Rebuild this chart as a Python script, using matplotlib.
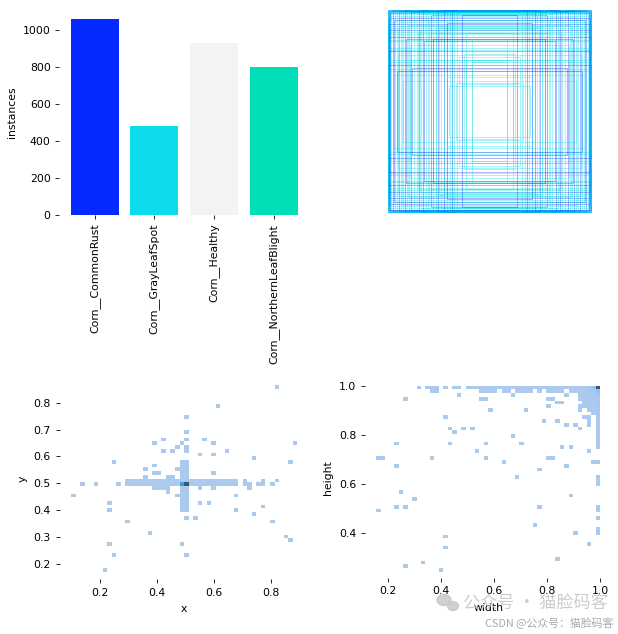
import matplotlib
matplotlib.use("Agg")
import matplotlib.pyplot as plt
from matplotlib.patches import Rectangle, Ellipse
from matplotlib.ticker import MultipleLocator
import pandas as pd
import seaborn as sns

# ---------------- data ----------------
class_names = ["Corn__CommonRust", "Corn__GrayLeafSpot", "Corn__Healthy", "Corn__NorthernLeafBlight"]
instances = [1059, 481, 931, 798]
class_colors = ["#042AFF", "#0BDBEB", "#F3F3F3", "#00DFB7"]

# label boxes drawn centred (width, height as fraction of image, class index)
rect_w = [
    1.00, 1.00, 0.99, 0.98, 1.00, 0.97, 0.99, 0.95, 1.00, 0.93,
    0.99, 0.91, 1.00, 0.89, 0.99, 0.87, 1.00, 0.85, 0.98, 0.83,
    1.00, 0.81, 0.99, 0.79, 1.00, 0.77, 0.99, 0.74, 1.00, 0.71,
    0.99, 0.69, 1.00, 0.67, 0.99, 0.65, 1.00, 0.62, 0.99, 0.60,
    1.00, 0.57, 0.99, 0.55, 1.00, 0.52, 0.99, 0.50, 1.00, 0.47,
    0.45, 0.42, 0.39, 0.37, 0.35, 0.32, 0.94, 0.90, 0.86, 0.82,
    0.80, 0.78, 0.76, 0.70, 0.68, 0.64, 0.59, 0.57, 0.55, 0.52,
    0.49, 0.45, 0.42, 0.42, 0.40, 0.37, 0.33, 0.30, 0.27, 0.25,
    0.23, 0.23, 0.27, 0.17, 0.17, 0.85, 0.95, 0.91, 0.78, 0.90,
    0.995, 1.00, 0.985, 0.99, 0.975, 0.98]
rect_h = [
    1.00, 1.00, 0.99, 1.00, 0.98, 0.99, 0.96, 1.00, 0.94, 0.99,
    0.92, 1.00, 0.90, 0.99, 0.88, 1.00, 0.86, 0.98, 0.84, 1.00,
    0.82, 0.98, 0.80, 1.00, 0.78, 0.98, 0.76, 1.00, 0.73, 0.98,
    0.70, 1.00, 0.69, 0.96, 0.63, 1.00, 0.61, 0.98, 0.60, 1.00,
    0.51, 0.95, 0.49, 1.00, 0.46, 0.98, 0.42, 1.00, 0.40, 0.96,
    1.00, 0.99, 0.98, 1.00, 0.99, 1.00, 0.90, 0.84, 0.93, 0.71,
    0.85, 0.66, 0.43, 0.77, 0.80, 0.69, 0.90, 0.77, 0.71, 0.83,
    0.82, 0.81, 0.87, 0.34, 0.25, 0.71, 0.28, 0.54, 0.95, 0.57,
    0.77, 0.51, 0.27, 0.71, 0.49, 0.30, 0.36, 0.40, 0.51, 0.56,
    1.00, 0.995, 0.99, 0.985, 0.98, 0.975]
rect_cls = [
    1, 0, 1, 1, 0, 1, 1, 0, 1, 1,
    0, 1, 1, 0, 1, 1, 0, 1, 1, 0,
    1, 1, 0, 1, 3, 0, 1, 1, 0, 1,
    1, 0, 3, 1, 1, 0, 1, 1, 0, 1,
    1, 0, 1, 1, 0, 3, 1, 0, 1, 1,
    0, 1, 1, 0, 1, 1, 0, 1, 1, 0,
    1, 1, 0, 1, 1, 0, 1, 1, 0, 1,
    3, 1, 0, 1, 1, 1, 1, 1, 0, 1,
    1, 1, 1, 1, 3, 1, 1, 0, 1, 1,
    1, 1, 0, 1, 1, 0]

# box centres: (x, y, count)
xy_cells = [
    (0.106, 0.455, 1), (0.138, 0.497, 1), (0.186, 0.497, 1), (0.249, 0.580, 1), (0.233, 0.427, 1),
    (0.233, 0.400, 1), (0.265, 0.497, 1), (0.297, 0.358, 1), (0.233, 0.275, 1), (0.249, 0.233, 1),
    (0.217, 0.178, 1), (0.376, 0.317, 1), (0.392, 0.649, 1), (0.424, 0.663, 1), (0.424, 0.622, 1),
    (0.456, 0.622, 1), (0.472, 0.635, 1), (0.360, 0.552, 1), (0.392, 0.566, 1), (0.392, 0.538, 1),
    (0.408, 0.538, 1), (0.360, 0.525, 1), (0.440, 0.525, 1), (0.456, 0.525, 1), (0.472, 0.552, 1),
    (0.392, 0.483, 1), (0.440, 0.469, 1), (0.472, 0.455, 1), (0.822, 0.857, 1), (0.615, 0.788, 1),
    (0.504, 0.746, 1), (0.504, 0.691, 1), (0.504, 0.663, 1), (0.488, 0.649, 1), (0.504, 0.635, 1),
    (0.504, 0.622, 1), (0.567, 0.663, 1), (0.599, 0.649, 1), (0.647, 0.622, 1), (0.885, 0.649, 1),
    (0.551, 0.608, 1), (0.599, 0.608, 1), (0.742, 0.594, 1), (0.869, 0.580, 1), (0.599, 0.538, 1),
    (0.551, 0.427, 1), (0.583, 0.427, 1), (0.678, 0.455, 1), (0.678, 0.400, 1), (0.742, 0.386, 1),
    (0.774, 0.414, 1), (0.806, 0.358, 1), (0.853, 0.303, 1), (0.869, 0.289, 1), (0.504, 0.372, 1),
    (0.535, 0.372, 1), (0.488, 0.275, 1), (0.504, 0.233, 1), (0.710, 0.497, 1), (0.710, 0.511, 1),
    (0.726, 0.483, 1), (0.726, 0.497, 1), (0.758, 0.497, 1), (0.774, 0.511, 1), (0.774, 0.497, 1),
    (0.806, 0.497, 1), (0.822, 0.511, 1), (0.551, 0.483, 1), (0.599, 0.483, 1), (0.408, 0.483, 1),
    (0.424, 0.483, 1), (0.440, 0.483, 1),
    # horizontal band y = 0.497
    (0.297, 0.497, 2), (0.313, 0.497, 2), (0.329, 0.497, 2), (0.345, 0.497, 2), (0.360, 0.497, 3),
    (0.376, 0.497, 3), (0.392, 0.497, 3), (0.408, 0.497, 4), (0.424, 0.497, 4), (0.440, 0.497, 5),
    (0.456, 0.497, 6), (0.472, 0.497, 8), (0.488, 0.497, 900), (0.504, 0.497, 2600),
    (0.519, 0.497, 8), (0.535, 0.497, 6), (0.551, 0.497, 5), (0.567, 0.497, 4), (0.583, 0.497, 4),
    (0.599, 0.497, 3), (0.615, 0.497, 3), (0.631, 0.497, 2), (0.647, 0.497, 2), (0.663, 0.497, 2),
    (0.678, 0.497, 2),
    # horizontal band y = 0.511
    (0.297, 0.511, 2), (0.313, 0.511, 2), (0.329, 0.511, 2), (0.345, 0.511, 2), (0.360, 0.511, 2),
    (0.376, 0.511, 2), (0.392, 0.511, 2), (0.408, 0.511, 3), (0.424, 0.511, 3), (0.440, 0.511, 3),
    (0.456, 0.511, 3), (0.472, 0.511, 4), (0.488, 0.511, 12), (0.504, 0.511, 20),
    (0.519, 0.511, 4), (0.535, 0.511, 3), (0.551, 0.511, 3), (0.567, 0.511, 3), (0.583, 0.511, 2),
    (0.599, 0.511, 2), (0.615, 0.511, 2), (0.631, 0.511, 2), (0.647, 0.511, 2), (0.663, 0.511, 2),
    (0.678, 0.511, 2),
    # vertical band x = 0.488 / 0.504
    (0.488, 0.525, 3), (0.504, 0.525, 4), (0.488, 0.538, 2), (0.504, 0.538, 3), (0.488, 0.552, 2),
    (0.504, 0.552, 3), (0.488, 0.566, 2), (0.504, 0.566, 2), (0.488, 0.580, 2), (0.504, 0.580, 2),
    (0.488, 0.483, 6), (0.504, 0.483, 10), (0.488, 0.469, 3), (0.504, 0.469, 4), (0.488, 0.455, 2),
    (0.504, 0.455, 3), (0.488, 0.441, 2), (0.504, 0.441, 2), (0.488, 0.427, 2), (0.504, 0.427, 2),
    (0.488, 0.414, 2), (0.504, 0.414, 2), (0.488, 0.400, 2), (0.504, 0.400, 2),
]

# box sizes: (width, height, count)
wh_cells = [
    # height ~ 0.992
    (0.317, 0.992, 1), (0.351, 0.992, 1), (0.368, 0.992, 2), (0.385, 0.992, 1), (0.418, 0.992, 1),
    (0.452, 0.992, 1), (0.469, 0.992, 1), (0.503, 0.992, 2), (0.519, 0.992, 2), (0.536, 0.992, 2),
    (0.553, 0.992, 2), (0.570, 0.992, 2), (0.587, 0.992, 2), (0.604, 0.992, 2), (0.621, 0.992, 2),
    (0.637, 0.992, 2), (0.654, 0.992, 2), (0.671, 0.992, 2), (0.688, 0.992, 2), (0.705, 0.992, 2),
    (0.722, 0.992, 2), (0.739, 0.992, 2), (0.755, 0.992, 2), (0.772, 0.992, 3), (0.789, 0.992, 3),
    (0.806, 0.992, 3), (0.823, 0.992, 3), (0.840, 0.992, 4), (0.857, 0.992, 4), (0.873, 0.992, 5),
    (0.890, 0.992, 6), (0.907, 0.992, 8), (0.924, 0.992, 12), (0.941, 0.992, 25), (0.958, 0.992, 60),
    (0.975, 0.992, 200), (0.992, 0.992, 2400),
    # height ~ 0.977
    (0.368, 0.977, 1), (0.385, 0.977, 1), (0.553, 0.977, 1), (0.570, 0.977, 1), (0.587, 0.977, 1),
    (0.604, 0.977, 1), (0.637, 0.977, 1), (0.654, 0.977, 1), (0.688, 0.977, 1), (0.705, 0.977, 1),
    (0.722, 0.977, 1), (0.739, 0.977, 1), (0.772, 0.977, 1), (0.806, 0.977, 1), (0.823, 0.977, 1),
    (0.840, 0.977, 1), (0.857, 0.977, 1), (0.890, 0.977, 2), (0.907, 0.977, 3), (0.924, 0.977, 6),
    (0.941, 0.977, 15), (0.958, 0.977, 40), (0.975, 0.977, 60), (0.992, 0.977, 200),
    # height ~ 0.962 .. 0.887
    (0.469, 0.962, 1), (0.671, 0.962, 1), (0.873, 0.962, 1), (0.924, 0.962, 3), (0.941, 0.962, 8),
    (0.958, 0.962, 15), (0.975, 0.962, 30), (0.992, 0.962, 80),
    (0.267, 0.947, 1), (0.553, 0.947, 1), (0.570, 0.947, 1), (0.806, 0.947, 1), (0.823, 0.947, 1),
    (0.924, 0.947, 2), (0.941, 0.947, 5), (0.958, 0.947, 10), (0.975, 0.947, 20), (0.992, 0.947, 50),
    (0.840, 0.932, 1), (0.857, 0.932, 1), (0.941, 0.932, 3), (0.958, 0.932, 6), (0.975, 0.932, 12),
    (0.992, 0.932, 40),
    (0.806, 0.917, 1), (0.924, 0.917, 1), (0.941, 0.917, 2), (0.958, 0.917, 3), (0.975, 0.917, 6),
    (0.992, 0.917, 30),
    (0.587, 0.902, 1), (0.722, 0.902, 1), (0.924, 0.902, 1), (0.958, 0.902, 2), (0.975, 0.902, 4),
    (0.992, 0.902, 25),
    (0.975, 0.887, 2), (0.992, 0.887, 20),
    # height ~ 0.872 .. 0.735
    (0.418, 0.872, 1), (0.941, 0.872, 1), (0.958, 0.872, 1), (0.992, 0.872, 15),
    (0.789, 0.856, 1), (0.840, 0.856, 1), (0.958, 0.856, 1), (0.992, 0.856, 12),
    (0.873, 0.841, 1), (0.907, 0.841, 1), (0.958, 0.841, 1), (0.992, 0.841, 10),
    (0.435, 0.826, 1), (0.486, 0.826, 1), (0.519, 0.826, 1), (0.924, 0.826, 1), (0.992, 0.826, 8),
    (0.452, 0.811, 1), (0.992, 0.811, 6),
    (0.671, 0.796, 1), (0.992, 0.796, 5),
    (0.992, 0.781, 4),
    (0.233, 0.766, 1), (0.435, 0.766, 1), (0.570, 0.766, 1), (0.705, 0.766, 1), (0.992, 0.766, 3),
    (0.857, 0.751, 1), (0.890, 0.751, 1), (0.992, 0.751, 3),
    (0.536, 0.735, 1), (0.958, 0.735, 1),
    # height ~ 0.705 .. 0.252
    (0.165, 0.705, 1), (0.182, 0.705, 1), (0.368, 0.705, 1), (0.570, 0.705, 1), (0.806, 0.705, 1),
    (0.823, 0.705, 1),
    (0.637, 0.690, 1), (0.975, 0.690, 1), (0.992, 0.690, 1),
    (0.233, 0.675, 1), (0.873, 0.675, 1),
    (0.772, 0.660, 1),
    (0.688, 0.630, 1), (0.992, 0.630, 1), (0.992, 0.614, 1), (0.992, 0.599, 1),
    (0.250, 0.569, 1), (0.890, 0.554, 1), (0.300, 0.539, 1),
    (0.233, 0.509, 1), (0.267, 0.509, 1), (0.772, 0.509, 1), (0.992, 0.509, 1),
    (0.165, 0.494, 1), (0.992, 0.494, 1), (0.992, 0.463, 1), (0.755, 0.433, 1),
    (0.992, 0.418, 1), (0.907, 0.403, 1), (0.992, 0.403, 1), (0.418, 0.388, 1),
    (0.958, 0.357, 1), (0.418, 0.342, 1), (0.840, 0.297, 1), (0.334, 0.282, 1),
    (0.267, 0.267, 1), (0.401, 0.252, 1),
]

# ---------------- style ----------------
FS = 7.8
plt.rcParams["font.family"] = ["DejaVu Sans"]
plt.rcParams.update({
    "font.size": FS,
    "xtick.major.size": 2.7, "ytick.major.size": 2.7,
    "xtick.major.width": 0.6, "ytick.major.width": 0.6,
    "xtick.major.pad": 3.6, "ytick.major.pad": 3.6,
    "axes.labelpad": 4.5,
})

W, H = 618, 634
fig = plt.figure(figsize=(W / 100, H / 100), dpi=100)


def px_axes(left, top, right, bottom):
    return fig.add_axes([left / W, 1 - bottom / H, (right - left) / W, (bottom - top) / H])


def strip(ax):
    for s in ["top", "right", "left", "bottom"]:
        ax.spines[s].set_visible(False)


# ---- bar chart ----
ax0 = px_axes(59.4, 9.3, 309.0, 215.0)
ax0.bar(range(len(instances)), instances, width=0.8, color=class_colors)
ax0.set_ylabel("instances", fontsize=FS)
ax0.set_xticks(range(len(class_names)))
ax0.set_xticklabels(class_names, rotation=90, fontsize=FS)
ax0.tick_params(labelsize=FS)
strip(ax0)

# ---- box outlines ----
ax1 = px_axes(386.7, 9.3, 592.0, 213.3)
for w, h, c in zip(rect_w, rect_h, rect_cls):
    ax1.add_patch(Rectangle((0.5 - w / 2, 0.5 - h / 2), w, h, fill=False,
                            edgecolor=class_colors[c], lw=0.6, alpha=0.4))
ax1.set_xlim(-0.004, 1.004)
ax1.set_ylim(1.004, -0.004)
ax1.axis("off")

# ---- x / y histogram ----
df_xy = pd.DataFrame(xy_cells, columns=["x", "y", "n"])
ax2 = px_axes(59.6, 378.2, 308.5, 579.1)
sns.histplot(df_xy, x="x", y="y", weights="n", bins=50,
             binrange=((0.098, 0.893), (0.171, 0.864)), pmax=0.9, ax=ax2)
ax2.set_xlim(0.058, 0.933)
ax2.set_ylim(0.144, 0.891)
ax2.xaxis.set_major_locator(MultipleLocator(0.2))
ax2.yaxis.set_major_locator(MultipleLocator(0.1))
ax2.set_xlabel("x", fontsize=FS)
ax2.set_ylabel("y", fontsize=FS)
ax2.tick_params(labelsize=FS)
strip(ax2)

# ---- width / height histogram ----
df_wh = pd.DataFrame(wh_cells, columns=["width", "height", "n"])
ax3 = px_axes(365.1, 376.6, 611.2, 577.7)
sns.histplot(df_wh, x="width", y="height", weights="n", bins=50,
             binrange=((0.157, 1.0), (0.244, 1.0)), pmax=0.9, ax=ax3)
ax3.set_xlim(0.115, 1.042)
ax3.set_ylim(0.22, 1.037)
ax3.xaxis.set_major_locator(MultipleLocator(0.2))
ax3.yaxis.set_major_locator(MultipleLocator(0.2))
ax3.set_xlabel("width", fontsize=FS)
ax3.set_ylabel("height", fontsize=FS)
ax3.tick_params(labelsize=FS)
strip(ax3)

# ---- watermark ----
cjk = ["Noto Sans CJK SC", "DejaVu Sans"]
fig.add_artist(Ellipse((444 / W, 1 - 600 / H), 14 / W, 11 / H, color="#c8c8c8", alpha=0.85))
fig.add_artist(Ellipse((453 / W, 1 - 606 / H), 11 / W, 9 / H, color="#c8c8c8", alpha=0.85))
fig.text(463 / W, 1 - 603 / H, "公众号 · 猫脸码客", family=cjk, fontsize=12.3,
         color="#c4c4c4", alpha=0.85, ha="left", va="center")
fig.text(613 / W, 1 - 623 / H, "CSDN @公众号：猫脸码客", family=cjk, fontsize=7.8,
         color="#a8a8a8", ha="right", va="center")

fig.savefig("out.png", dpi=100)
